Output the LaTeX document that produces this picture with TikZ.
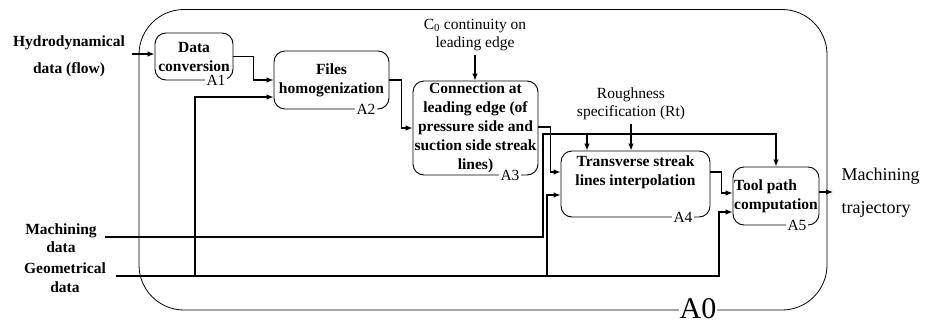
\documentclass[tikz,border=0pt]{standalone}
\usepackage{fontspec}
\setmainfont{Liberation Serif}
\usetikzlibrary{arrows.meta,positioning,calc}

\begin{document}
\begin{tikzpicture}[x=1pt, y=-1pt,
    activity/.style={rectangle, rounded corners=11pt, draw, line width=0.9pt, inner sep=0pt, align=center, font=\fontsize{15.5}{19}\selectfont\bfseries},
    tag/.style={fill=white, inner sep=1.5pt, font=\fontsize{15.5}{19}\selectfont},
    extlabel/.style={align=center, font=\fontsize{15.5}{18.5}\selectfont\bfseries},
    ctrl/.style={align=center, font=\fontsize{15.5}{18.5}\selectfont},
    flow/.style={-{Latex[length=7pt,width=5.5pt]}, line width=1.1pt},
    wire/.style={line width=1.1pt}
]
\path[use as bounding box] (0,0) rectangle (933,324);

% Context box
\node[draw, rounded corners=45pt, line width=0.8pt, inner sep=0pt, minimum width=688pt, minimum height=300.5pt] (a0) at (483,159.75) {};

% Activities
\node[activity, minimum width=78pt, minimum height=47pt] (a1) at (194,56.5) {Data\\conversion};
\node[activity, minimum width=115pt, minimum height=58pt] (a2) at (331.5,80) {Files\\homogenization};
\node[activity, minimum width=125pt, minimum height=94pt] (a3) at (475.5,128) {Connection at\\leading edge (of\\pressure side and\\suction side streak\\lines)};
\node[activity, minimum width=149pt, minimum height=66pt] (a4) at (635.5,184) {Transverse streak\\lines interpolation\\[7pt]};
\node[activity, minimum width=86pt, minimum height=58pt, align=left] (a5) at (776,196) {Tool path\\computation};

% External inputs
\node[extlabel] (hyd) at (69,56.5) {Hydrodynamical\\[8.5pt]data (flow)};
\node[extlabel] (mach) at (61,238) {Machining\\data};
\node[extlabel] (geo) at (65,277.5) {Geometrical\\data};

% Controls
\node[ctrl] (c0) at (475,35) {C\textsubscript{0} continuity on\\leading edge};
\node[ctrl] (rt) at (631,104) {Roughness\\specification (Rt)};

% Output
\node[ctrl, font=\fontsize{18}{22}\selectfont, align=left, anchor=west] (traj) at (838,192.5) {Machining\\[11pt]trajectory};

% Connection points
\coordinate (hydin) at (132,54);
\coordinate (machin) at (105,237);
\coordinate (machup) at (543,134);
\coordinate (machtap) at (587,134);
\coordinate (geoin) at (116,276);
\coordinate (geo2) at (195,276);
\coordinate (geo4) at (547,276);
\coordinate (geo5) at (719,276);
\coordinate (out) at (833,192);

% Main flow
\draw[flow] (hydin) -- (hydin -| a1.west);
\draw[flow] (a1.east) -- ++(20,0) |- (a2.west);
\draw[flow] (a2.east) -- ++(12,0) |- (a3.west);
\draw[flow] ([yshift=1pt]a3.east) -- ++(12,0) |- ([yshift=12pt]a4.west);
\draw[flow] ([yshift=12pt]a4.east) -- ++(11,0) |- ([yshift=3pt]a5.west);
\draw[flow] ([yshift=4pt]a5.east) -- (out);

% Control arrows
\draw[flow] (c0.south) -- (c0.south |- a3.north);
\draw[flow] (rt.south) -- (rt.south |- a4.north);

% Machining data
\draw[flow] (machin) -| (machup) -| (a5.north);
\draw[flow] (machtap) -- (machtap |- a4.north);

% Geometrical data
\draw[flow] (geoin) -- (geo5) |- ([yshift=-16pt]a5.west);
\draw[flow] (geo2) |- ([yshift=-17pt]a2.west);
\draw[flow] (geo4) |- ([yshift=-11pt]a4.west);

% Activity tags
\node[tag] (t1) at (216,80) {A1};
\node[tag] (t2) at (366,109) {A2};
\node[tag] (t3) at (510,175) {A3};
\node[tag] (t4) at (683,217) {A4};
\node[tag] (t5) at (797,225) {A5};
\node[tag, font=\fontsize{30}{36}\selectfont, inner sep=1pt] (t0) at (698,308.5) {A0};

\end{tikzpicture}
\end{document}
